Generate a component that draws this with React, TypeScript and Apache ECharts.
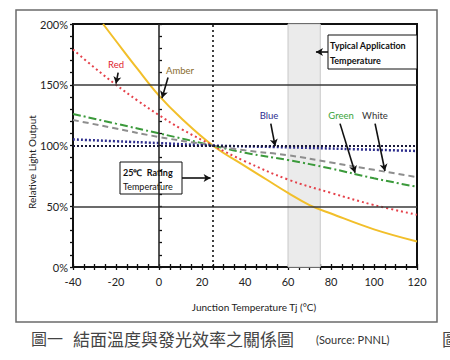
import React, { useEffect, useRef } from "react";
import * as echarts from "echarts";

// ---- data ----
const xTicks = [-40, -20, 0, 20, 40, 60, 80, 100, 120];
const yTicks = [0, 50, 100, 150, 200];

const amberT = [-26, -20, -10, 0, 10, 25, 40, 50, 60, 70, 80, 100, 120];
const amberV = [200, 186, 163, 141, 123, 100, 83, 72, 61, 51, 44, 31, 21];

const redT = [-40, -30, -20, -10, 0, 10, 25, 40, 60, 80, 100, 120];
const redV = [179, 164, 150, 137, 125, 114, 100, 87, 72, 61, 51, 43];

const greenT = [-40, -20, 0, 25, 40, 60, 80, 100, 120];
const greenV = [126, 118, 110, 100, 94, 88, 81, 73, 66];

const whiteT = [-40, -20, 0, 25, 40, 60, 80, 100, 120];
const whiteV = [121, 114, 107, 100, 96, 92, 86, 80, 74];

const blueT = [-40, -20, 0, 25, 60, 90, 120];
const blueV = [105, 103.5, 102, 100, 98.5, 97, 95.5];

const ratingTemp = 25;
const typicalRange = [60, 75];

const zip = (a: number[], b: number[]) => a.map((v, i) => [v, b[i]]);

const FONT = "Lato, 'Open Sans', sans-serif";
const CJK = "'Noto Sans CJK TC', sans-serif";

export default function App() {
  const ref = useRef<HTMLDivElement>(null);
  useEffect(() => {
    document.body.style.margin = "0";
    const chart = echarts.init(ref.current!, null, { renderer: "svg" });

    const tickStyle = { color: "#111", width: 1.3 };
    const xMain = {
      type: "value",
      min: xTicks[0],
      max: xTicks[xTicks.length - 1],
      interval: 20,
      position: "bottom",
      axisLine: { show: true, onZero: false, lineStyle: { color: "#111", width: 2 } },
      axisTick: { show: true, length: 3, lineStyle: tickStyle },
      minorTick: { show: true, splitNumber: 4, length: 3, lineStyle: tickStyle },
      axisLabel: { fontSize: 11, color: "#222", margin: 9, fontFamily: FONT },
      splitLine: { show: false },
    };
    const xInner = {
      ...xMain,
      axisLine: { show: false },
      axisLabel: { show: false },
      axisTick: { show: true, inside: true, length: 3, lineStyle: tickStyle },
      minorTick: { show: true, splitNumber: 4, length: 3, lineStyle: tickStyle },
    };
    const yMain = {
      type: "value",
      min: yTicks[0],
      max: yTicks[yTicks.length - 1],
      interval: 50,
      position: "left",
      axisLine: { show: true, onZero: false, lineStyle: { color: "#111", width: 2 } },
      axisTick: { show: true, length: 3, lineStyle: tickStyle },
      minorTick: { show: true, splitNumber: 5, length: 3, lineStyle: tickStyle },
      axisLabel: { fontSize: 11, color: "#222", margin: 5, fontFamily: FONT, formatter: "{value}%" },
      splitLine: { show: false },
    };
    const yInner = {
      ...yMain,
      axisLine: { show: false },
      axisLabel: { show: false },
      axisTick: { show: true, inside: true, length: 3, lineStyle: tickStyle },
      minorTick: { show: true, splitNumber: 5, length: 3, lineStyle: tickStyle },
    };

    const arrow = (from: number[], to: number[], color = "#111") => [
      { coord: from, lineStyle: { color, width: 1.6, type: "solid" } },
      { coord: to },
    ];

    const option: any = {
      animation: false,
      backgroundColor: "#fff",
      grid: { left: 73, right: 33, top: 24, bottom: 93, show: true, borderColor: "#111", borderWidth: 2, backgroundColor: "transparent" },
      xAxis: [xMain, xInner],
      yAxis: [yMain, yInner],
      series: [
        {
          name: "refs",
          type: "line",
          data: [],
          silent: true,
          markArea: {
            silent: true,
            itemStyle: { color: "#ebebeb", borderColor: "#c8c8c8", borderWidth: 1 },
            data: [[{ xAxis: typicalRange[0] }, { xAxis: typicalRange[1] }]],
          },
          markLine: {
            silent: true,
            symbol: "none",
            label: { show: false },
            data: [
              { yAxis: 50, lineStyle: { color: "#3a3a3a", width: 1.6, type: "solid" } },
              { yAxis: 150, lineStyle: { color: "#3a3a3a", width: 1.6, type: "solid" } },
              { xAxis: 0, lineStyle: { color: "#2a2a2a", width: 1.6, type: "solid" } },
              { xAxis: ratingTemp, lineStyle: { color: "#111", width: 1.6, type: [2, 3] } },
            ],
          },
        },
        {
          name: "Amber",
          type: "line",
          smooth: 0.4,
          showSymbol: false,
          data: zip(amberT, amberV),
          lineStyle: { color: "#f2bf2a", width: 2 },
        },
        {
          name: "Red",
          type: "line",
          smooth: 0.4,
          showSymbol: false,
          data: zip(redT, redV),
          lineStyle: { color: "#e5414a", width: 2, type: [2, 3] },
        },
        {
          name: "Green",
          type: "line",
          smooth: true,
          showSymbol: false,
          data: zip(greenT, greenV),
          lineStyle: { color: "#3b9a3b", width: 2, type: [8, 3, 2, 3] },
        },
        {
          name: "White",
          type: "line",
          smooth: true,
          showSymbol: false,
          data: zip(whiteT, whiteV),
          lineStyle: { color: "#8e8e8e", width: 2, type: [6, 4] },
        },
        {
          name: "Blue",
          type: "line",
          smooth: true,
          showSymbol: false,
          data: zip(blueT, blueV),
          lineStyle: { color: "#2c2c8c", width: 2.5, type: [2, 2] },
          markLine: {
            silent: true,
            symbol: "none",
            label: { show: false },
            data: [{ yAxis: 100, lineStyle: { color: "#1a1a3a", width: 2, type: [2, 2] } }],
          },
        },
        {
          name: "arrows",
          type: "line",
          data: [],
          silent: true,
          markLine: {
            silent: true,
            symbol: ["none", "arrow"],
            symbolSize: [6, 7],
            label: { show: false },
            data: [
              arrow([-19, 160], [-20, 151]),
              arrow([4.2, 156], [1.4, 139]),
              arrow([52, 118], [54, 99.5]),
              arrow([84.2, 118], [91.2, 77.5]),
              arrow([100.5, 118], [105.1, 79]),
              arrow([78.6, 177], [73, 177]),
              arrow([10.7, 73.3], [24, 73.3]),
            ],
          },
        },
      ],
      graphic: [
        { type: "rect", z: -10, shape: { x: 16, y: 10, width: 421, height: 312 }, style: { fill: "none", stroke: "#6b6b6b", lineWidth: 1.5 } },
        { type: "text", x: 32, y: 162, rotation: Math.PI / 2, style: { text: "Relative Light Output", fontSize: 10, fontFamily: FONT, fill: "#222", align: "center", verticalAlign: "middle" } },
        { type: "text", x: 254, y: 307, style: { text: "Junction Temperature Tj (°C)", fontSize: 10, fontFamily: FONT, fill: "#222", align: "center", verticalAlign: "middle" } },
        // series labels
        { type: "text", x: 116, y: 64, style: { text: "Red", fontSize: 9.5, fontFamily: FONT, fill: "#e0232e", align: "center", verticalAlign: "middle" } },
        { type: "text", x: 180, y: 70, style: { text: "Amber", fontSize: 9.5, fontFamily: FONT, fill: "#8a6d2e", align: "center", verticalAlign: "middle" } },
        { type: "text", x: 269, y: 115, style: { text: "Blue", fontSize: 9.5, fontFamily: FONT, fill: "#2d2d90", align: "center", verticalAlign: "middle" } },
        { type: "text", x: 341, y: 115, style: { text: "Green", fontSize: 9.5, fontFamily: FONT, fill: "#3aa33a", align: "center", verticalAlign: "middle" } },
        { type: "text", x: 375, y: 115, style: { text: "White", fontSize: 9.5, fontFamily: FONT, fill: "#333", align: "center", verticalAlign: "middle" } },
        // typical application box
        { type: "rect", shape: { x: 328, y: 35, width: 89, height: 34 }, style: { fill: "#fff", stroke: "#111", lineWidth: 1 } },
        { type: "text", x: 330, y: 45, style: { text: "Typical Application", fontSize: 9, fontWeight: "bold", fontFamily: FONT, fill: "#111", verticalAlign: "middle" } },
        { type: "text", x: 330, y: 60, style: { text: "Temperature", fontSize: 9, fontWeight: "bold", fontFamily: FONT, fill: "#111", verticalAlign: "middle" } },
        // rating box
        { type: "rect", shape: { x: 120, y: 162, width: 62, height: 32 }, style: { fill: "#fff", stroke: "#111", lineWidth: 1 } },
        { type: "text", x: 123, y: 172, style: { text: "25℃  Rating", fontSize: 9, fontWeight: "bold", fontFamily: FONT, fill: "#111", verticalAlign: "middle" } },
        { type: "text", x: 123, y: 186, style: { text: "Temperature", fontSize: 9, fontFamily: FONT, fill: "#111", verticalAlign: "middle" } },
        // caption
        { type: "text", x: 31, y: 338, style: { text: "圖一", fontSize: 16, fontFamily: CJK, fill: "#444", verticalAlign: "middle" } },
        { type: "text", x: 73, y: 338, style: { text: "結面溫度與發光效率之關係圖", fontSize: 17, fontFamily: CJK, fill: "#444", verticalAlign: "middle" } },
        { type: "text", x: 316, y: 339, style: { text: "(Source: PNNL)", fontSize: 11, fontFamily: FONT, fill: "#333", verticalAlign: "middle" } },
        { type: "text", x: 442, y: 338, style: { text: "圖", fontSize: 17, fontFamily: CJK, fill: "#444", verticalAlign: "middle" } },
      ],
    };
    chart.setOption(option);
    return () => chart.dispose();
  }, []);
  return <div ref={ref} style={{ position: "absolute", left: 0, top: 0, width: 450, height: 360 }} />;
}
